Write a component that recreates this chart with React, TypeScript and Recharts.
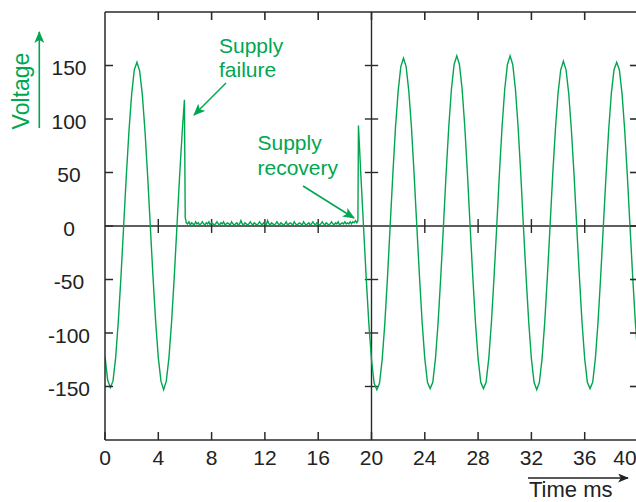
import React from 'react';
import { ComposedChart, Line, Scatter, XAxis, YAxis, ReferenceLine } from 'recharts';

// ---- values ----
const timeTicks = [0, 4, 8, 12, 16, 20, 24, 28, 32, 36, 40];
const voltageTicks = [-150, -100, -50, 0, 50, 100, 150];
const timeRange = [0, 40];
const voltageRange = [-200, 200];

// [time ms, voltage]
const beforeFailure: [number, number][] = [
  [0, -122], [0.2, -144], [0.4, -151], [0.6, -145], [0.8, -123], [1.0, -89], [1.2, -47],
  [1.4, 0], [1.6, 47], [1.8, 89], [2.0, 123], [2.2, 146], [2.4, 153], [2.6, 145],
  [2.8, 123], [3.0, 89], [3.2, 47], [3.4, 0], [3.6, -47], [3.8, -89], [4.0, -123],
  [4.2, -145], [4.4, -153], [4.6, -145], [4.8, -123], [5.0, -89], [5.2, -47], [5.4, 0],
  [5.6, 47], [5.8, 89], [5.96, 118],
];

const outage: [number, number][] = [
  [6.02, 8], [6.1, 3], [6.2, 2], [6.3, 4], [6.4, 1], [6.5, 3], [6.6, 2], [6.7, 1], [6.8, 4],
  [6.9, 2], [7.0, 3], [7.1, 1], [7.2, 2], [7.3, 4], [7.4, 2], [7.5, 1], [7.6, 3], [7.7, 2],
  [7.8, 4], [7.9, 1], [8.0, 3], [8.1, 2], [8.2, 1], [8.3, 2], [8.4, 4], [8.5, 2], [8.6, 1],
  [8.7, 3], [8.8, 2], [8.9, 4], [9.0, 1], [9.1, 2], [9.2, 3], [9.3, 2], [9.4, 1], [9.5, 4],
  [9.6, 2], [9.7, 1], [9.8, 2], [9.9, 3], [10.0, 1], [10.1, 2], [10.2, 5], [10.3, 2],
  [10.4, 1], [10.5, 3], [10.6, 2], [10.7, 1], [10.8, 2], [10.9, 4], [11.0, 2], [11.1, 1],
  [11.2, 3], [11.3, 2], [11.4, 1], [11.5, 2], [11.6, 4], [11.7, 2], [11.8, 1], [11.9, 3],
  [12.0, 2], [12.1, 1], [12.2, 5], [12.3, 2], [12.4, 1], [12.5, 3], [12.6, 2], [12.7, 1],
  [12.8, 2], [12.9, 4], [13.0, 2], [13.1, 1], [13.2, 3], [13.3, 2], [13.4, 1], [13.5, 2],
  [13.6, 4], [13.7, 1], [13.8, 2], [13.9, 3], [14.0, 2], [14.1, 1], [14.2, 4], [14.3, 2],
  [14.4, 1], [14.5, 2], [14.6, 3], [14.7, 2], [14.8, 1], [14.9, 4], [15.0, 2], [15.1, 1],
  [15.2, 2], [15.3, 3], [15.4, 1], [15.5, 2], [15.6, 4], [15.7, 2], [15.8, 1], [15.9, 3],
  [16.0, 2], [16.1, 1], [16.2, 2], [16.3, 4], [16.4, 2], [16.5, 1], [16.6, 3], [16.7, 2],
  [16.8, 1], [16.9, 2], [17.0, 4], [17.1, 2], [17.2, 1], [17.3, 3], [17.4, 2], [17.5, 4],
  [17.6, 1], [17.7, 2], [17.8, 3], [17.9, 2], [18.0, 4], [18.1, 2], [18.2, 3], [18.3, 2],
  [18.4, 4], [18.5, 2], [18.6, 4], [18.7, 3], [18.8, 5], [18.9, 3], [18.98, 5],
];

const afterRecovery: [number, number][] = [
  [19.02, 94], [19.2, 48], [19.4, 0], [19.6, -48], [19.8, -91], [20.0, -125], [20.2, -147],
  [20.4, -153], [20.6, -147], [20.8, -125], [21.0, -91], [21.2, -48], [21.4, 0], [21.6, 48],
  [21.8, 92], [22.0, 126], [22.2, 149], [22.4, 157], [22.6, 149], [22.8, 126], [23.0, 92],
  [23.2, 48], [23.4, 0], [23.6, -47], [23.8, -90], [24.0, -124], [24.2, -146], [24.4, -152],
  [24.6, -146], [24.8, -124], [25.0, -90], [25.2, -47], [25.4, 0], [25.6, 49], [25.8, 93],
  [26.0, 128], [26.2, 151], [26.4, 159], [26.6, 151], [26.8, 128], [27.0, 93], [27.2, 49],
  [27.4, 0], [27.6, -47], [27.8, -90], [28.0, -124], [28.2, -146], [28.4, -152], [28.6, -146],
  [28.8, -124], [29.0, -90], [29.2, -47], [29.4, 0], [29.6, 49], [29.8, 93], [30.0, 128],
  [30.2, 151], [30.4, 159], [30.6, 151], [30.8, 128], [31.0, 93], [31.2, 49], [31.4, 0],
  [31.6, -47], [31.8, -90], [32.0, -124], [32.2, -146], [32.4, -153], [32.6, -146],
  [32.8, -124], [33.0, -90], [33.2, -47], [33.4, 0], [33.6, 48], [33.8, 90], [34.0, 124],
  [34.2, 146], [34.4, 154], [34.6, 146], [34.8, 124], [35.0, 90], [35.2, 48], [35.4, 0],
  [35.6, -47], [35.8, -90], [36.0, -124], [36.2, -146], [36.4, -152], [36.6, -146],
  [36.8, -124], [37.0, -90], [37.2, -47], [37.4, 0], [37.6, 47], [37.8, 90], [38.0, 124],
  [38.2, 146], [38.4, 153], [38.6, 146], [38.8, 124], [39.0, 90], [39.2, 47], [39.4, 0],
  [39.6, -47], [39.8, -90], [40.0, -124],
];

const data = [...beforeFailure, ...outage, ...afterRecovery].map(([t, v]) => ({ t, v }));

// ---- layout & styling ----
const GREEN = '#00a650';
const AXIS = '#2a2a2a';
const FONT = '"Liberation Sans", Arial, Helvetica, sans-serif';
const CHART_W = 660;
const CHART_H = 502;
const MARGIN = { top: 12, right: 22, bottom: 0, left: 0 };
const TICK_PX = 8;

const [tMin, tMax] = timeRange;
const [, vMax] = voltageRange;
const innerTimeTicks = timeTicks.filter((t) => t !== tMin && t !== tMax);
const innerVoltageTicks = voltageTicks.filter((v) => v !== 0);
const TICK_V = 6.5; // half tick length in voltage units
const TICK_T = 0.5; // half tick length in ms

// mirrored tick anchors on the top border and on the right border
const topTickPoints = innerTimeTicks.map((t) => ({ t, v: vMax }));
const rightTickPoints = voltageTicks.map((v) => ({ t: tMax, v }));

const XTick = (p: any) => {
  const last = p.payload.value === timeTicks[timeTicks.length - 1];
  return (
    <text x={p.x + (last ? -13 : 0)} y={p.y} dy="0.76em" textAnchor="middle"
      fontSize={21} fill="#222" fontFamily={FONT}>
      {p.payload.value}
    </text>
  );
};

const YTick = (p: any) => (
  <text x={p.x} y={p.y} dy="0.47em" textAnchor="middle" fontSize={21} fill="#222" fontFamily={FONT}>
    {p.payload.value}
  </text>
);

const TopTickShape = (p: any) => (
  <line x1={p.cx} x2={p.cx} y1={p.cy} y2={p.cy + TICK_PX} stroke={AXIS} strokeWidth={1.6} />
);
const RightTickShape = (p: any) => (
  <line x1={p.cx - TICK_PX} x2={p.cx} y1={p.cy} y2={p.cy} stroke={AXIS} strokeWidth={1.6} />
);

export default function App() {
  return (
    <div style={{ position: 'fixed', left: 0, top: 0, width: 636, height: 502, overflow: 'hidden', background: '#fff' }}>
      <ComposedChart width={CHART_W} height={CHART_H} data={data} margin={MARGIN}>
        <XAxis dataKey="t" type="number" domain={timeRange} ticks={timeTicks} allowDataOverflow
          height={62} tickSize={-TICK_PX} tickMargin={17} stroke={AXIS} strokeWidth={1.5}
          tick={(p: any) => <XTick {...p} />} interval={0} />
        <YAxis type="number" domain={voltageRange} ticks={voltageTicks} allowDataOverflow
          width={105} tickSize={-TICK_PX} tickMargin={44} stroke={AXIS} strokeWidth={1.5}
          tick={(p: any) => <YTick {...p} />} interval={0} />
        {/* frame: top and right borders */}
        <ReferenceLine y={vMax} stroke={AXIS} strokeWidth={1.5} ifOverflow="visible" />
        <ReferenceLine x={tMax} stroke={AXIS} strokeWidth={1.5} ifOverflow="visible" />
        {/* central cross */}
        <ReferenceLine y={0} stroke={AXIS} strokeWidth={1.4} />
        <ReferenceLine x={20} stroke={AXIS} strokeWidth={1.4} />
        {/* ticks on the zero line */}
        {innerTimeTicks.filter((t) => t !== 20).map((t) => (
          <ReferenceLine key={'tx' + t} segment={[{ x: t, y: -TICK_V }, { x: t, y: TICK_V }]}
            stroke={AXIS} strokeWidth={1.4} ifOverflow="visible" />
        ))}
        {/* ticks on the 20 ms line */}
        {innerVoltageTicks.map((v) => (
          <ReferenceLine key={'ty' + v} segment={[{ x: 20 - TICK_T, y: v }, { x: 20 + TICK_T, y: v }]}
            stroke={AXIS} strokeWidth={1.4} ifOverflow="visible" />
        ))}
        {/* mirrored ticks on top and right borders */}
        <Scatter data={topTickPoints} dataKey="v" shape={(p: any) => <TopTickShape {...p} />}
          isAnimationActive={false} legendType="none" />
        <Scatter data={rightTickPoints} dataKey="v" shape={(p: any) => <RightTickShape {...p} />}
          isAnimationActive={false} legendType="none" />
        <Line type="linear" dataKey="v" stroke={GREEN} strokeWidth={1.4} dot={false}
          isAnimationActive={false} activeDot={false} />
      </ComposedChart>
      <svg width={636} height={502} style={{ position: 'absolute', left: 0, top: 0, pointerEvents: 'none' }}>
        <defs>
          <marker id="headG" viewBox="0 0 12 10" refX="11" refY="5" markerWidth="12" markerHeight="10"
            markerUnits="userSpaceOnUse" orient="auto">
            <path d="M0,0 L12,5 L0,10 L3,5 z" fill={GREEN} />
          </marker>
          <marker id="headK" viewBox="0 0 12 10" refX="11" refY="5" markerWidth="12" markerHeight="9"
            markerUnits="userSpaceOnUse" orient="auto">
            <path d="M0,0 L12,5 L0,10 L3,5 z" fill="#222" />
          </marker>
        </defs>
        <text x={29} y={91} transform="rotate(-90 29 91)" textAnchor="middle" fontSize={23}
          fill={GREEN} fontFamily={FONT}>Voltage</text>
        <line x1={39.3} y1={128} x2={39.3} y2={32} stroke={GREEN} strokeWidth={1.6} markerEnd="url(#headG)" />
        <text x={219} y={53} fontSize={21} fill={GREEN} fontFamily={FONT}>Supply</text>
        <text x={219} y={77} fontSize={21} fill={GREEN} fontFamily={FONT}>failure</text>
        <line x1={226} y1={83} x2={194} y2={115} stroke={GREEN} strokeWidth={1.5} markerEnd="url(#headG)" />
        <text x={257.5} y={150} fontSize={21} fill={GREEN} fontFamily={FONT}>Supply</text>
        <text x={257.5} y={175} fontSize={21} fill={GREEN} fontFamily={FONT}>recovery</text>
        <line x1={303} y1={186} x2={354} y2={218} stroke={GREEN} strokeWidth={1.5} markerEnd="url(#headG)" />
        <line x1={528} y1={478} x2={628} y2={478} stroke="#222" strokeWidth={1.5} markerEnd="url(#headK)" />
        <text x={529} y={497} fontSize={22} fill="#222" fontFamily={FONT}>Time ms</text>
      </svg>
    </div>
  );
}
